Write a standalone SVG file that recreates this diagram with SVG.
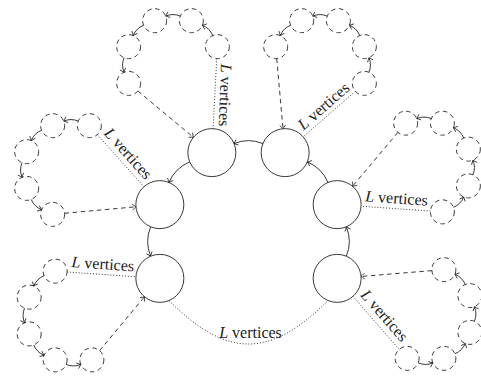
<svg xmlns="http://www.w3.org/2000/svg" width="481" height="377" viewBox="0 0 481 377">
<style>
.main{fill:none;stroke:#222;stroke-width:0.9}
.sub{fill:none;stroke:#222;stroke-width:0.9;stroke-dasharray:4.5 3.6}
.arr{fill:none;stroke:#222;stroke-width:0.9;marker-end:url(#ah)}
.dash{fill:none;stroke:#222;stroke-width:0.9;stroke-dasharray:4.5 3.6;marker-end:url(#ah)}
.dot{fill:none;stroke:#222;stroke-width:1;stroke-dasharray:0.9 2}
.lbl{font-family:"Liberation Serif","Times New Roman",serif;font-size:16px;fill:#222;text-anchor:middle}
.lbl tspan.i{font-style:italic}
</style>
<defs>
<marker id="ah" viewBox="-5 -4 6 8" markerWidth="6" markerHeight="8" refX="0" refY="0" orient="auto" markerUnits="userSpaceOnUse">
<path d="M-3.6,-3 Q-1.2,-0.9 0,0 Q-1.2,0.9 -3.6,3" fill="none" stroke="#222" stroke-width="0.8"/>
</marker>
</defs>

<!-- main nodes -->
<g id="m-tl"><circle class="main" cx="211.85" cy="152.63" r="24"/></g>
<g id="m-tr"><circle class="main" cx="285.15" cy="152.63" r="24"/></g>
<g id="m-l2"><circle class="main" cx="159.85" cy="204.63" r="24"/></g>
<g id="m-l3"><circle class="main" cx="159.85" cy="278.37" r="24"/></g>
<g id="m-r2"><circle class="main" cx="337.15" cy="204.63" r="24"/></g>
<g id="m-r3"><circle class="main" cx="337.15" cy="278.37" r="24"/></g>

<!-- cluster A -->
<g id="a1"><circle class="sub" cx="217.35" cy="46.63" r="12"/></g>
<g id="a2"><circle class="sub" cx="191.37" cy="20.65" r="12"/></g>
<g id="a3"><circle class="sub" cx="154.63" cy="20.65" r="12"/></g>
<g id="a4"><circle class="sub" cx="128.65" cy="46.63" r="12"/></g>
<g id="a5"><circle class="sub" cx="128.65" cy="83.37" r="12"/></g>
<!-- cluster B -->
<g id="b5"><circle class="sub" cx="364.35" cy="83.37" r="12"/></g>
<g id="b4"><circle class="sub" cx="364.35" cy="46.63" r="12"/></g>
<g id="b3"><circle class="sub" cx="338.37" cy="20.65" r="12"/></g>
<g id="b2"><circle class="sub" cx="301.63" cy="20.65" r="12"/></g>
<g id="b1"><circle class="sub" cx="275.65" cy="46.63" r="12"/></g>
<!-- cluster C -->
<g id="c1"><circle class="sub" cx="89.37" cy="125.65" r="12"/></g>
<g id="c2"><circle class="sub" cx="52.63" cy="125.65" r="12"/></g>
<g id="c3"><circle class="sub" cx="26.65" cy="151.63" r="12"/></g>
<g id="c4"><circle class="sub" cx="26.65" cy="188.37" r="12"/></g>
<g id="c5"><circle class="sub" cx="52.63" cy="214.35" r="12"/></g>
<!-- cluster D -->
<g id="d5"><circle class="sub" cx="442.37" cy="211.85" r="12"/></g>
<g id="d4"><circle class="sub" cx="468.35" cy="185.87" r="12"/></g>
<g id="d3"><circle class="sub" cx="468.35" cy="149.13" r="12"/></g>
<g id="d2"><circle class="sub" cx="442.37" cy="123.15" r="12"/></g>
<g id="d1"><circle class="sub" cx="405.63" cy="123.15" r="12"/></g>
<!-- cluster E -->
<g id="e1"><circle class="sub" cx="55.13" cy="271.15" r="12"/></g>
<g id="e2"><circle class="sub" cx="29.15" cy="297.13" r="12"/></g>
<g id="e3"><circle class="sub" cx="29.15" cy="333.87" r="12"/></g>
<g id="e4"><circle class="sub" cx="55.13" cy="359.85" r="12"/></g>
<g id="e5"><circle class="sub" cx="91.87" cy="359.85" r="12"/></g>
<!-- cluster F -->
<g id="f5"><circle class="sub" cx="407.13" cy="358.35" r="12"/></g>
<g id="f4"><circle class="sub" cx="443.87" cy="358.35" r="12"/></g>
<g id="f3"><circle class="sub" cx="469.85" cy="332.37" r="12"/></g>
<g id="f2"><circle class="sub" cx="469.85" cy="295.63" r="12"/></g>
<g id="f1"><circle class="sub" cx="443.87" cy="269.65" r="12"/></g>

<g id="connectors">
<!-- main cycle -->
<path class="arr" d="M263.06,143.62 A38.08,38.08 0 0 0 233.94,143.62"/>
<path class="arr" d="M189.58,161.98 A38.08,38.08 0 0 0 168.98,182.58"/>
<path class="arr" d="M150.62,226.94 A38.08,38.08 0 0 0 150.62,256.06"/>
<path class="arr" d="M346.38,256.06 A38.08,38.08 0 0 0 346.38,226.94"/>
<path class="arr" d="M328.02,182.58 A38.08,38.08 0 0 0 307.42,161.98"/>
<path class="dot" d="M169.03,300.54 C227,358.5 270,358.5 327.97,300.54"/>

<!-- cluster A arrows -->
<path class="arr" d="M212.76,35.54 A19.04,19.04 0 0 0 202.46,25.24"/>
<path class="arr" d="M180.28,16.06 A19.04,19.04 0 0 0 165.72,16.06"/>
<path class="arr" d="M143.54,25.24 A19.04,19.04 0 0 0 133.24,35.54"/>
<path class="arr" d="M124.06,57.72 A19.04,19.04 0 0 0 124.06,72.28"/>
<path class="dash" d="M137.87,91.05 L193.4,137.27"/>
<path class="dot" d="M216.73,58.61 L213.09,128.66"/>
<!-- cluster B arrows -->
<path class="arr" d="M368.94,72.28 A19.04,19.04 0 0 0 368.94,57.72"/>
<path class="arr" d="M359.76,35.54 A19.04,19.04 0 0 0 349.46,25.24"/>
<path class="arr" d="M327.28,16.06 A19.04,19.04 0 0 0 312.72,16.06"/>
<path class="arr" d="M290.54,25.24 A19.04,19.04 0 0 0 280.24,35.54"/>
<path class="dash" d="M276.72,58.58 L283.01,128.72"/>
<path class="dot" d="M355.32,91.27 L303.22,136.83"/>
<!-- cluster C arrows -->
<path class="arr" d="M78.28,121.06 A19.04,19.04 0 0 0 63.72,121.06"/>
<path class="arr" d="M41.54,130.24 A19.04,19.04 0 0 0 31.24,140.54"/>
<path class="arr" d="M22.06,162.72 A19.04,19.04 0 0 0 22.06,177.28"/>
<path class="arr" d="M31.24,199.46 A19.04,19.04 0 0 0 41.54,209.76"/>
<path class="dash" d="M64.58,213.27 L135.95,206.8"/>
<path class="dot" d="M97.36,134.6 L143.87,186.72"/>
<!-- cluster D arrows -->
<path class="arr" d="M453.46,207.26 A19.04,19.04 0 0 0 463.76,196.96"/>
<path class="arr" d="M472.94,174.78 A19.04,19.04 0 0 0 472.94,160.22"/>
<path class="arr" d="M463.76,138.04 A19.04,19.04 0 0 0 453.46,127.74"/>
<path class="arr" d="M431.28,118.56 A19.04,19.04 0 0 0 416.72,118.56"/>
<path class="dash" d="M397.91,132.34 L352.59,186.26"/>
<path class="dot" d="M430.4,211.03 L361.09,206.27"/>
<!-- cluster E arrows -->
<path class="arr" d="M44.04,275.74 A19.04,19.04 0 0 0 33.74,286.04"/>
<path class="arr" d="M24.56,308.22 A19.04,19.04 0 0 0 24.56,322.78"/>
<path class="arr" d="M33.74,344.96 A19.04,19.04 0 0 0 44.04,355.26"/>
<path class="arr" d="M66.22,364.44 A19.04,19.04 0 0 0 80.78,364.44"/>
<path class="dash" d="M99.56,350.64 L144.47,296.8"/>
<path class="dot" d="M67.1,271.98 L135.91,276.72"/>
<!-- cluster F arrows -->
<path class="arr" d="M418.22,362.94 A19.04,19.04 0 0 0 432.78,362.94"/>
<path class="arr" d="M454.96,353.76 A19.04,19.04 0 0 0 465.26,343.46"/>
<path class="arr" d="M474.44,321.28 A19.04,19.04 0 0 0 474.44,306.72"/>
<path class="arr" d="M465.26,284.54 A19.04,19.04 0 0 0 454.96,274.24"/>
<path class="dash" d="M431.91,270.63 L361.07,276.42"/>
<path class="dot" d="M399.23,349.32 L352.95,296.43"/>
</g>

<g id="labels">
<text class="lbl" transform="translate(220,95) rotate(92)"><tspan class="i">L</tspan> vertices</text>
<text class="lbl" transform="translate(327,110) rotate(-41.2)"><tspan class="i">L</tspan> vertices</text>
<text class="lbl" transform="translate(124.2,157) rotate(48.25)"><tspan class="i">L</tspan> vertices</text>
<text class="lbl" transform="translate(396.2,203.5) rotate(3.9)"><tspan class="i">L</tspan> vertices</text>
<text class="lbl" transform="translate(102.5,269.2) rotate(3.94)"><tspan class="i">L</tspan> vertices</text>
<text class="lbl" transform="translate(380.5,319) rotate(48.8)"><tspan class="i">L</tspan> vertices</text>
<text class="lbl" x="250.5" y="338"><tspan class="i">L</tspan> vertices</text>
</g>
</svg>
